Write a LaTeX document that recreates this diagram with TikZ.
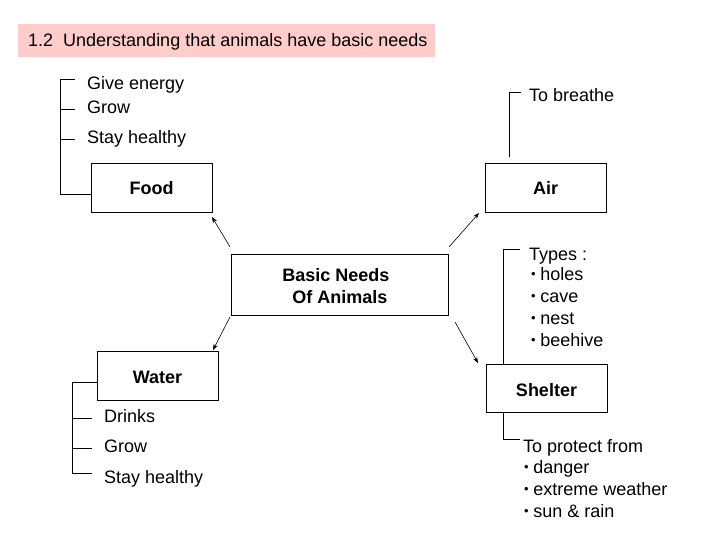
\documentclass[tikz,border=0pt]{standalone}
\usepackage{fontspec}
\setmainfont{Liberation Sans}
\usetikzlibrary{arrows.meta}
\definecolor{titlepink}{RGB}{255,204,204}
\newcommand{\sbul}{{\fontsize{13pt}{13pt}\selectfont\raisebox{1.5pt}{•}}\hspace{4.5pt}}
\tikzset{
  box/.style={draw=black, line width=0.9pt, fill=white},
  boxtext/.style={font=\fontsize{18pt}{22pt}\selectfont\bfseries, inner sep=0pt, anchor=base},
  txt/.style={font=\fontsize{18pt}{22pt}\selectfont, inner sep=0pt, anchor=base west},
  brk/.style={draw=black, line width=0.9pt},
  arr/.style={draw=black, line width=0.6pt, -{Stealth[length=6pt,width=4.5pt]}}
}
\begin{document}
\begin{tikzpicture}[x=1pt,y=-1pt]
\useasboundingbox (0,0) rectangle (728,546);
\fill[white] (0,0) rectangle (728,546);
% title
\fill[titlepink] (18,24) rectangle (435,57);
\node[txt] (title) at (28,46.5) {1.2\ \ Understanding that animals have basic needs};
% boxes
\draw[box] (91,163) rectangle (212,212);
\node[boxtext] (food) at (151.5,194.5) {Food};
\draw[box] (485,163) rectangle (606,212);
\node[boxtext] (air) at (545.5,194.5) {Air};
\draw[box] (231,254) rectangle (448,315);
\node[boxtext] (basic1) at (336,281.5) {Basic Needs};
\node[boxtext] (basic2) at (340,303) {Of Animals};
\draw[box] (97,351) rectangle (218,400);
\node[boxtext] (water) at (157.5,383) {Water};
\draw[box] (486,364) rectangle (607,412);
\node[boxtext] (shelter) at (546.5,396.5) {Shelter};
% food bracket
\draw[brk] (75,79) -- (60,79) -- (60,194) -- (91,194);
\draw[brk] (60,109) -- (75,109);
\draw[brk] (60,139) -- (75,139);
\node[txt] (f1) at (87,89) {Give energy};
\node[txt] (f2) at (87,113) {Grow};
\node[txt] (f3) at (87,143) {Stay healthy};
% air bracket
\draw[brk] (521,92) -- (509,92) -- (509,157);
\node[txt] (a1) at (529,101.5) {To breathe};
% water bracket
\draw[brk] (97,382) -- (72,382) -- (72,473) -- (92,473);
\draw[brk] (72,418) -- (92,418);
\draw[brk] (72,448) -- (92,448);
\node[txt] (w1) at (104,422) {Drinks};
\node[txt] (w2) at (104,452.5) {Grow};
\node[txt] (w3) at (104,483) {Stay healthy};
% shelter brackets
\draw[brk] (520,249) -- (503,249) -- (503,364);
\node[txt] (s0) at (529,260) {Types :};
\node[txt] (s1) at (531,280) {\sbul holes};
\node[txt] (s2) at (531,302) {\sbul cave};
\node[txt] (s3) at (531,324) {\sbul nest};
\node[txt] (s4) at (531,346) {\sbul beehive};
\draw[brk] (503,412) -- (503,439) -- (520,439);
\node[txt] (p0) at (523,452.5) {To protect from};
\node[txt] (p1) at (524,473) {\sbul danger};
\node[txt] (p2) at (524,495) {\sbul extreme weather};
\node[txt] (p3) at (524,517) {\sbul sun \& rain};
% arrows
\coordinate (c1) at (230,247);
\coordinate (e1) at (212,217);
\coordinate (c2) at (449,247);
\coordinate (e2) at (479,213);
\coordinate (c3) at (230,317);
\coordinate (e3) at (213,350);
\coordinate (c4) at (455,322);
\coordinate (e4) at (478,363);
\draw[arr] (c1) -- (e1);
\draw[arr] (c2) -- (e2);
\draw[arr] (c3) -- (e3);
\draw[arr] (c4) -- (e4);
\end{tikzpicture}
\end{document}
